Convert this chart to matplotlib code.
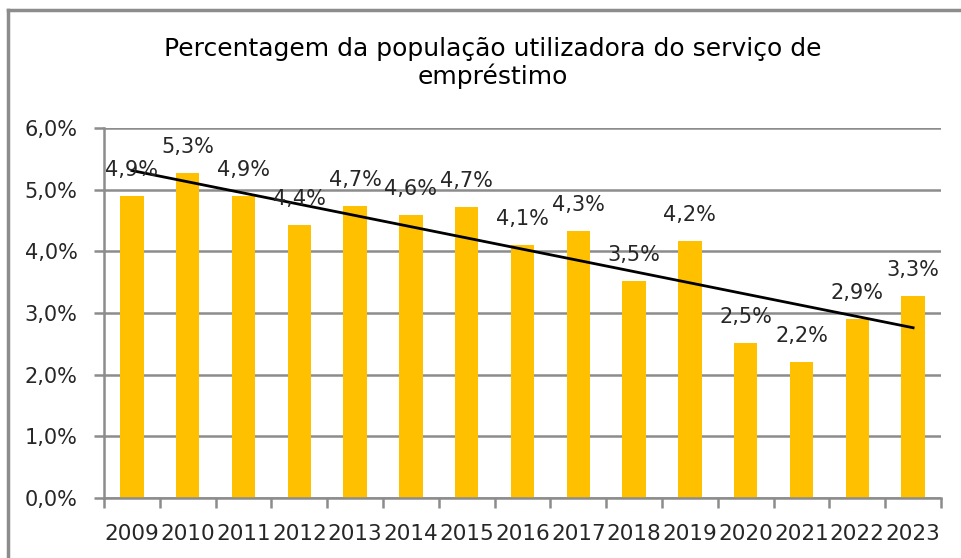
import numpy as np
import matplotlib
matplotlib.use("Agg")
import matplotlib.pyplot as plt
from matplotlib.lines import Line2D
from matplotlib.ticker import FuncFormatter, FixedLocator

years = [2009, 2010, 2011, 2012, 2013, 2014, 2015, 2016, 2017, 2018,
         2019, 2020, 2021, 2022, 2023]
values = [4.9, 5.27, 4.9, 4.42, 4.73, 4.59, 4.72, 4.1, 4.33, 3.52,
          4.17, 2.51, 2.2, 2.9, 3.27]
labels = ["4,9%", "5,3%", "4,9%", "4,4%", "4,7%", "4,6%", "4,7%", "4,1%",
          "4,3%", "3,5%", "4,2%", "2,5%", "2,2%", "2,9%", "3,3%"]
title = "Percentagem da população utilizadora do serviço de\nempréstimo"

plt.rcParams['font.family'] = ['DejaVu Sans']

fig = plt.figure(figsize=(9.62, 5.58), dpi=100)
ax = fig.add_axes([104 / 962, 1 - 498 / 558, 837 / 962, 370 / 558])

x = np.arange(len(years))
ax.bar(x, values, width=0.42, color='#FFC000', zorder=2)

# linear trendline
k, b = np.polyfit(x, values, 1)
ax.plot([x[0], x[-1]], [k * x[0] + b, k * x[-1] + b], color='black', lw=2, zorder=4)

for xi, v, lab in zip(x, values, labels):
    ax.annotate(lab, (xi, v), xytext=(0, 26), textcoords='offset pixels',
                ha='center', va='center', fontsize=15, color='#262626', zorder=5)

ax.set_xlim(-0.5, len(years) - 0.5)
ax.set_ylim(0, 6)
ax.set_yticks(np.arange(0, 7, 1))
ax.yaxis.set_major_formatter(FuncFormatter(lambda v, p: f"{v:.1f}%".replace('.', ',')))
ax.yaxis.grid(True, color='#8c8c8c', lw=1.8, zorder=1)

ax.set_xticks(x)
ax.set_xticklabels([str(y) for y in years], fontsize=15.5, color='#262626')
ax.xaxis.set_minor_locator(FixedLocator(np.arange(-0.5, len(years), 1)))
ax.tick_params(axis='x', which='major', length=0, pad=19)
ax.tick_params(axis='x', which='minor', length=7, width=1.8, color='#8c8c8c', direction='out')
ax.tick_params(axis='y', length=7, width=1.8, color='#8c8c8c', labelsize=15,
               labelcolor='#262626', pad=12)

for s in ['top', 'right']:
    ax.spines[s].set_visible(False)
for s in ['left', 'bottom']:
    ax.spines[s].set_color('#8c8c8c')
    ax.spines[s].set_linewidth(1.8)

fig.text(493 / 962, 1 - 63 / 558, title, ha='center', va='center', fontsize=18,
         linespacing=1.15, color='black')

# outer chart frame (cropped at right and bottom)
fig.add_artist(Line2D([8 / 962, 1], [1 - 10 / 558, 1 - 10 / 558], transform=fig.transFigure,
                      color='#8c8c8c', lw=2.5))
fig.add_artist(Line2D([8 / 962, 8 / 962], [0, 1 - 10 / 558], transform=fig.transFigure,
                      color='#8c8c8c', lw=2.5))

fig.savefig('out.png', dpi=100)
